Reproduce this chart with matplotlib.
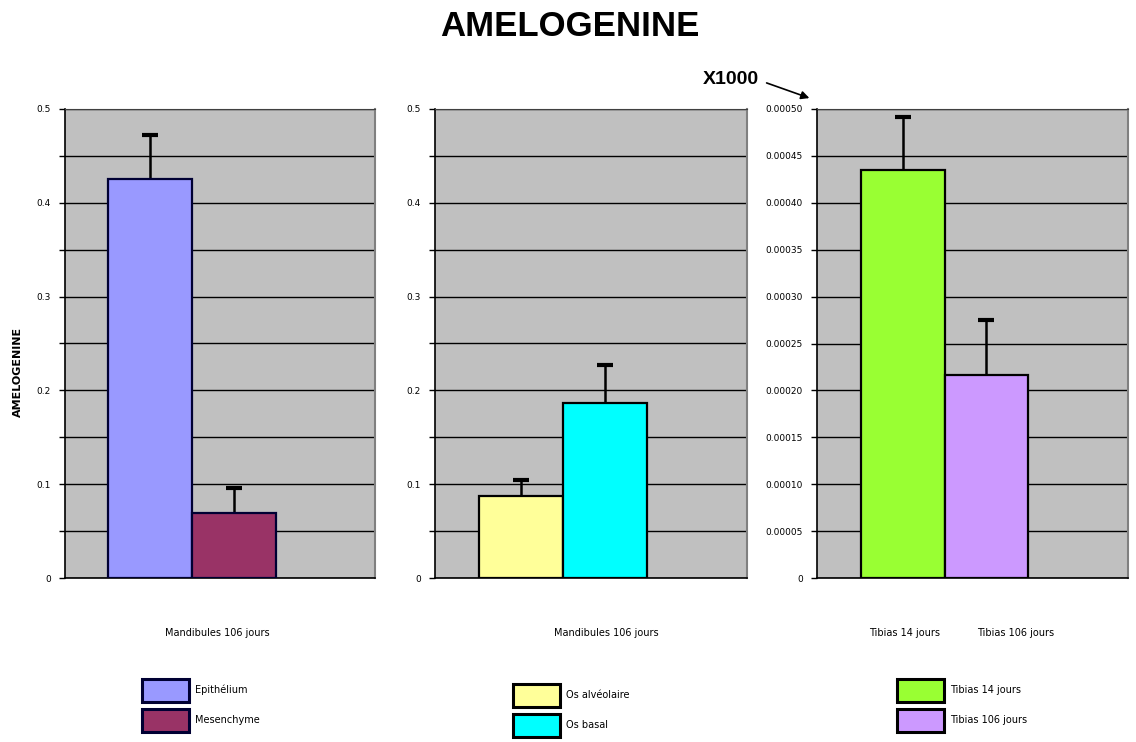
import matplotlib
matplotlib.use("Agg")
import matplotlib.pyplot as plt
from matplotlib.ticker import MultipleLocator, FormatStrFormatter

plt.rcParams["font.family"] = ["DejaVu Sans"]

TITLE = "AMELOGENINE"
Y_LABEL = "AMELOGENINE"

# panel 1: mandibules
MAND_CATEGORY = "Mandibules 106 jours"
EPI_MES_LABELS = ["Epithélium", "Mesenchyme"]
EPI_MES_VALUES = [0.425, 0.069]
EPI_MES_ERRORS = [0.047, 0.027]
EPI_MES_COLORS = ["#9999ff", "#993366"]

# panel 2: os
OS_LABELS = ["Os alvéolaire", "Os basal"]
OS_VALUES = [0.087, 0.187]
OS_ERRORS = [0.017, 0.040]
OS_COLORS = ["#ffff99", "#00ffff"]

# panel 3: tibias (x1000 scale)
TIB_CATEGORIES = ["Tibias 14 jours", "Tibias 106 jours"]
TIB_LABELS = ["Tibias 14 jours", "Tibias 106 jours"]
TIB_VALUES = [0.000435, 0.000216]
TIB_ERRORS = [0.000056, 0.000059]
TIB_COLORS = ["#99ff33", "#cc99ff"]

W, H = 1136, 742
GROUP_CENTER = 0.41
BAR_W = 0.27
BOLD_FONT = ["Liberation Sans", "DejaVu Sans"]


def fx(px):
    return px / W


def fy(py):
    return 1 - py / H


def draw_panel(fig, left_px, width_px, values, errors, colors, edge, ymax, major, minor, fmt):
    ax = fig.add_axes([fx(left_px), fy(578), width_px / W, 469 / H])
    ax.set_facecolor("#c0c0c0")
    n = len(values)
    xs = [GROUP_CENTER + (i - (n - 1) / 2) * BAR_W for i in range(n)]
    ax.bar(xs, values, width=BAR_W, color=colors, edgecolor=edge, linewidth=1.6, zorder=3)
    # drawn under the bars so only the upper half shows
    ax.errorbar(xs, values, yerr=errors, fmt="none", ecolor="black",
                elinewidth=1.8, capsize=6, capthick=3, zorder=2.5)
    ax.set_xlim(0, 1)
    ax.set_ylim(0, ymax)
    ax.yaxis.set_major_locator(MultipleLocator(major))
    ax.yaxis.set_major_formatter(FormatStrFormatter(fmt))
    if minor:
        ax.yaxis.set_minor_locator(MultipleLocator(minor))
    ax.grid(True, axis="y", which="both", color="black", linewidth=1.0, zorder=1)
    ax.set_axisbelow(True)
    ax.tick_params(axis="y", which="both", length=4, width=1, direction="out", pad=6, labelsize=6.5)
    ax.set_xticks([])
    for side in ("left", "bottom"):
        ax.spines[side].set_color("black")
        ax.spines[side].set_linewidth(1.2)
    ax.spines["top"].set_color("#404040")
    ax.spines["right"].set_color("#808080")
    ax.spines["right"].set_linewidth(1.5)
    return ax


def add_legend(fig, labels, colors, edge, x_px, y_px):
    handles = [plt.Rectangle((0, 0), 1, 1, facecolor=c, edgecolor=edge, linewidth=2.2) for c in colors]
    fig.legend(handles, labels, loc="upper left", bbox_to_anchor=(fx(x_px), fy(y_px)),
               frameon=False, fontsize=7, handlelength=4.8, handleheight=3.2,
               labelspacing=0.75, handletextpad=0.7, borderpad=0, borderaxespad=0)


def main():
    fig = plt.figure(figsize=(W / 100, H / 100), dpi=100)

    ax1 = draw_panel(fig, 65, 310, EPI_MES_VALUES, EPI_MES_ERRORS, EPI_MES_COLORS,
                     "#000033", 0.5, 0.1, 0.05, "%g")
    ax2 = draw_panel(fig, 435, 312, OS_VALUES, OS_ERRORS, OS_COLORS,
                     "black", 0.5, 0.1, 0.05, "%g")
    ax3 = draw_panel(fig, 817, 311, TIB_VALUES, TIB_ERRORS, TIB_COLORS,
                     "black", 0.0005, 0.00005, None, "%.5f")
    ax3.yaxis.set_major_formatter(
        plt.FuncFormatter(lambda v, _: "0" if abs(v) < 1e-12 else f"{v:.5f}"))

    # category labels under the axes
    ax1.text(0.49, -55 / 469, MAND_CATEGORY, transform=ax1.transAxes,
             ha="center", va="center", fontsize=7)
    ax2.text(0.55, -55 / 469, MAND_CATEGORY, transform=ax2.transAxes,
             ha="center", va="center", fontsize=7)
    for xpos, lab in zip([0.28, 0.64], TIB_CATEGORIES):
        ax3.text(xpos, -55 / 469, lab, transform=ax3.transAxes,
                 ha="center", va="center", fontsize=7)

    fig.text(0.502, fy(27), TITLE, ha="center", va="center", fontsize=25,
             fontweight="bold", family=BOLD_FONT)
    fig.text(fx(18), fy(372), Y_LABEL, rotation=90, ha="center", va="center",
             fontsize=8, fontweight="bold")

    fig.text(fx(731), fy(80), "X1000", ha="center", va="center", fontsize=14,
             fontweight="bold", family=BOLD_FONT)
    fig.add_artist(matplotlib.patches.FancyArrowPatch(
        (fx(764), fy(82)), (fx(812), fy(99)), transform=fig.transFigure,
        arrowstyle="-|>", mutation_scale=12, color="black", linewidth=1.2))

    add_legend(fig, EPI_MES_LABELS, EPI_MES_COLORS, "#000033", 142, 679)
    add_legend(fig, OS_LABELS, OS_COLORS, "black", 513, 684)
    add_legend(fig, TIB_LABELS, TIB_COLORS, "black", 897, 679)

    fig.savefig("out.png", dpi=100)


if __name__ == "__main__":
    main()
